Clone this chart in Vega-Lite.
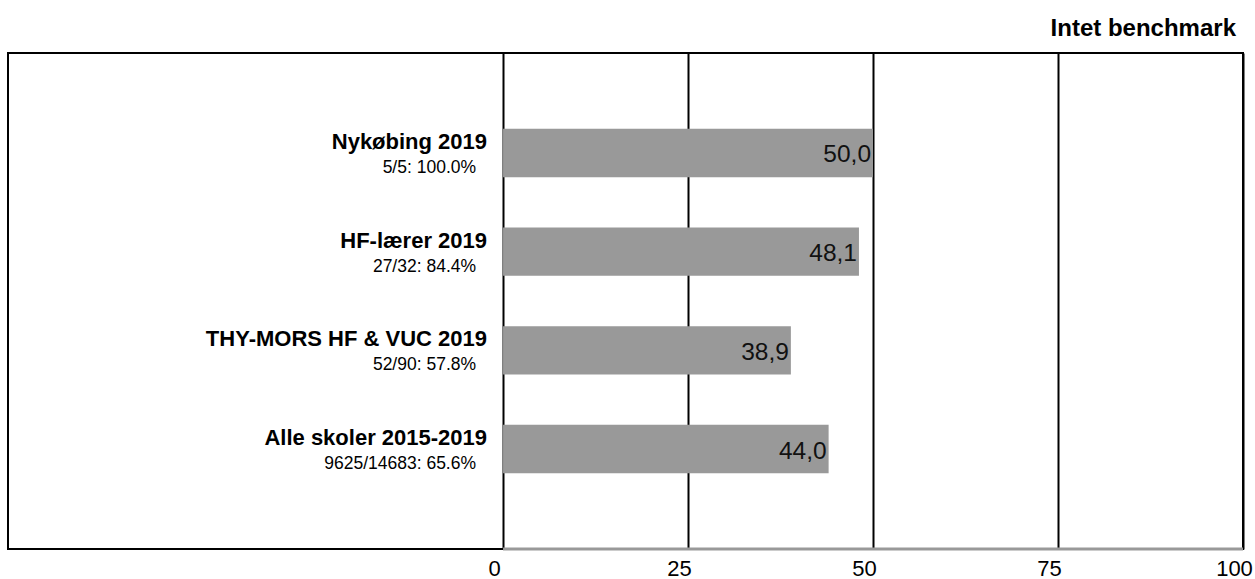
{
  "$schema": "https://vega.github.io/schema/vega-lite/v6.json",
  "width": 1235,
  "height": 496,
  "autosize": {"type": "none"},
  "padding": {"left": 8, "top": 53, "right": 12, "bottom": 30},
  "background": "white",
  "title": {"text": "Intet benchmark", "anchor": "end", "frame": "group", "orient": "top", "fontSize": 24, "font": "Liberation Sans", "fontWeight": "bold", "color": "#000000", "baseline": "alphabetic", "offset": 17, "dx": -7, "dy": 24},
  "config": {
    "locale": {"number": {"decimal": ",", "thousands": ".", "grouping": [3], "currency": ["", " kr."]}},
    "view": {"stroke": "#000000", "strokeWidth": 2},
    "font": "Liberation Sans"
  },
  "data": {
    "values": [
      {"name": "Nykøbing 2019", "sub": "5/5: 100.0%", "value": 50.0},
      {"name": "HF-lærer 2019", "sub": "27/32: 84.4%", "value": 48.1},
      {"name": "THY-MORS HF & VUC 2019", "sub": "52/90: 57.8%", "value": 38.9},
      {"name": "Alle skoler 2015-2019", "sub": "9625/14683: 65.6%", "value": 44.0}
    ]
  },
  "layer": [
    {
      "mark": {"type": "bar", "color": "#999999"},
      "encoding": {
        "y": {"field": "name", "type": "nominal", "sort": null, "scale": {"type": "band", "paddingInner": 0.51, "paddingOuter": 0.768}, "axis": null},
        "x": {
          "field": "value", "type": "quantitative",
          "scale": {"domain": [-66.9, 100], "nice": false, "zero": false},
          "axis": {"values": [0, 25, 50, 75, 100], "grid": true, "gridColor": "#000000", "gridWidth": 2, "gridOpacity": 1, "domain": false, "ticks": false, "labelFontSize": 22, "labelColor": "#000000", "labelPadding": 9, "labelOffset": -9, "title": null, "labelFont": "Liberation Sans", "labelFlush": false, "labelBound": false, "labelOverlap": false}
        },
        "x2": {"datum": 0}
      }
    },
    {
      "mark": {"type": "text", "align": "right", "baseline": "alphabetic", "dx": -16, "dy": -4, "fontSize": 22, "fontWeight": "bold", "color": "#000000"},
      "encoding": {
        "y": {"field": "name", "type": "nominal", "sort": null, "scale": {"type": "band", "paddingInner": 0.51, "paddingOuter": 0.768}, "axis": null},
        "x": {"datum": 0, "type": "quantitative"},
        "text": {"field": "name"}
      }
    },
    {
      "mark": {"type": "text", "align": "right", "baseline": "alphabetic", "dx": -27, "dy": 20, "fontSize": 17.5, "color": "#000000"},
      "encoding": {
        "y": {"field": "name", "type": "nominal", "sort": null, "scale": {"type": "band", "paddingInner": 0.51, "paddingOuter": 0.768}, "axis": null},
        "x": {"datum": 0, "type": "quantitative"},
        "text": {"field": "sub"}
      }
    },
    {
      "mark": {"type": "text", "align": "right", "baseline": "alphabetic", "dx": -2, "dy": 9.5, "fontSize": 24.5, "color": "#111111"},
      "encoding": {
        "y": {"field": "name", "type": "nominal", "sort": null, "scale": {"type": "band", "paddingInner": 0.51, "paddingOuter": 0.768}, "axis": null},
        "x": {"field": "value", "type": "quantitative"},
        "text": {"field": "value", "type": "quantitative", "format": ".1f"}
      }
    },
    {
      "data": {"values": [{"start": 0, "end": 100}]},
      "mark": {"type": "rule", "color": "#999999", "strokeWidth": 3},
      "encoding": {
        "x": {"field": "start", "type": "quantitative"},
        "x2": {"field": "end"},
        "y": {"datum": 0, "type": "quantitative", "scale": {"domain": [0, 1]}, "axis": null}
      }
    }
  ],
  "resolve": {"scale": {"y": "independent"}}
}
